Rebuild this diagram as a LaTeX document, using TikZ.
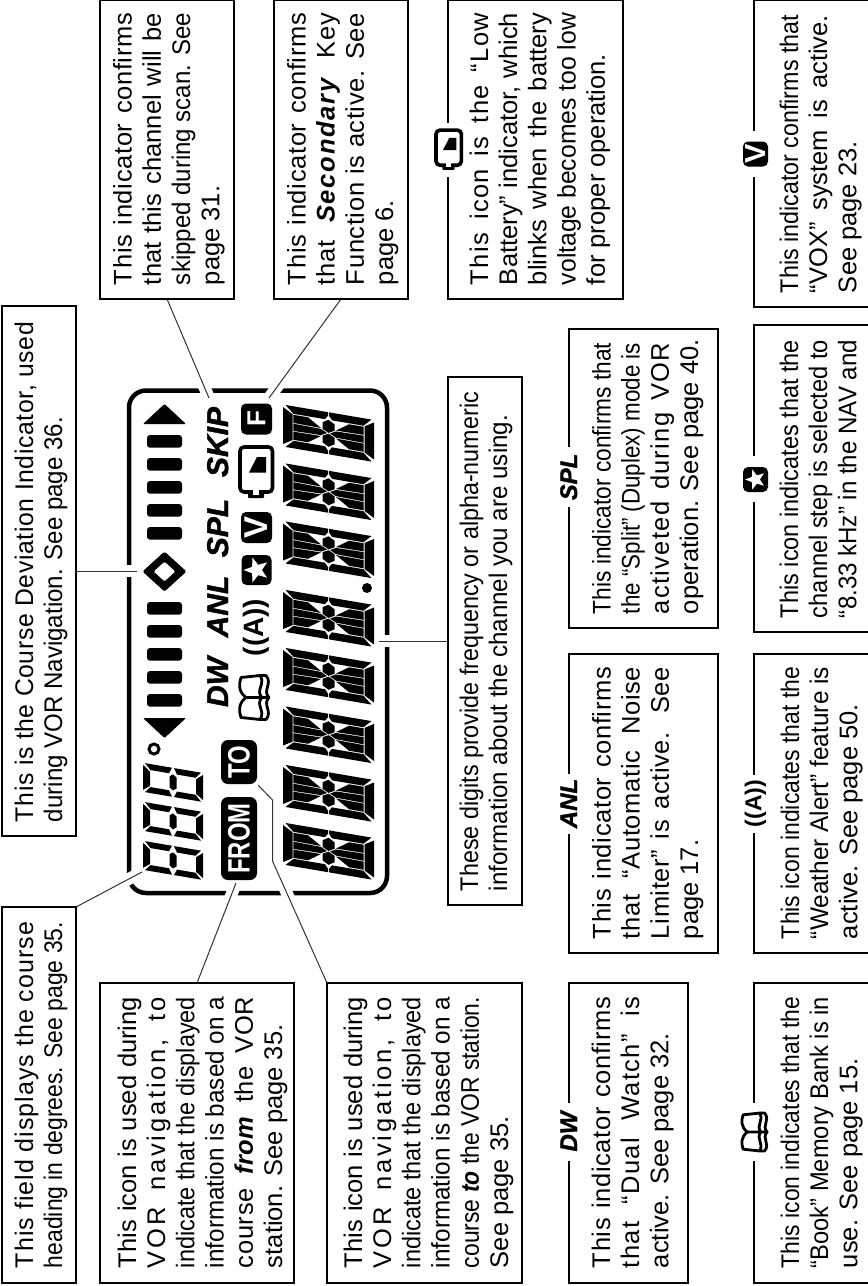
\documentclass[tikz,border=0pt]{standalone}
\usepackage{fontspec}
\usepackage{graphicx}
\setmainfont{Liberation Sans}
\usetikzlibrary{shapes.geometric}
\hbadness=10000 \hfuzz=50pt \vfuzz=50pt
\newsavebox\Lbox
\def\Ii{0pt}\def\Ww{0pt}
\newcommand\Sq{\rule{0pt}{20pt}}
\newcommand\Jw[2]{\sbox\Lbox{#2}\ifdim\wd\Lbox>#1pt
  \hbox{\hskip\Ii\resizebox{#1pt}{\height}{\Sq#2}}%
  \else\hbox{\hskip\Ii\hbox to #1pt{\Sq#2}}\fi}
\newcommand\J[1]{\Jw{\Ww}{#1}}
\newcommand\Lp[1]{\hbox{\hskip\Ii\Sq#1}}
\newcommand\capt[6]{\hbox to #1pt{\parbox[c][#2pt][t]{#1pt}{\def\Ii{#4pt}\def\Ww{#5}%
  \fontsize{25.5}{29.2}\selectfont\vspace*{\dimexpr#3pt-20pt\relax}#6}\hss}}
\newcommand\BI[1]{\textbf{\textit{#1}}}
\newcommand\Tk{\addfontfeature{LetterSpace=2.5}}
\tikzset{
  capbox/.style={draw=black,line width=1.8pt,inner sep=0pt,outer sep=0pt,rotate=90},
  conn/.style={draw=black!80,line width=1pt,preaction={draw=white,line width=12pt}},
  lcdframe/.style={draw=black,line width=4.5pt,rounded corners=17pt,inner sep=0pt,outer sep=0pt},
  biglabel/.style={rotate=90,inner sep=0pt,text height=22pt,text depth=0pt,font=\fontsize{30}{30}\selectfont\bfseries\itshape\addfontfeature{FakeBold=1.5}},
  smalllabel/.style={rotate=90,inner sep=0pt,fill=white,minimum height=10pt,text height=17pt,text depth=0pt,font=\fontsize{24}{24}\selectfont\bfseries\itshape\addfontfeature{FakeBold=1.5}},
  gapnode/.style={rotate=90,fill=white,inner sep=0pt,minimum height=10pt},
  blackicon/.style={rotate=90,fill=black,text=white,rounded corners=5pt,inner sep=0pt,outer sep=0pt,font=\bfseries},
  whitestar/.style={star,star points=5,star point ratio=2.4,fill=white,inner sep=0pt,rotate=90},
  wavesym/.style={rotate=90,inner sep=0pt,font=\bfseries},
  segalpha/.pic={\fill[black,x={(0pt,1pt)},y={(-1pt,.17pt)}]
    (2.5,91)--(39.5,91)--(34,81.5)--(8,81.5)--cycle
    (2.5,0)--(39.5,0)--(34,9.5)--(8,9.5)--cycle
    (0,88.5)--(7.5,80.5)--(7.5,49)--(3.5,46)--(0,46)--cycle
    (0,2.5)--(7.5,10.5)--(7.5,42)--(3.5,45)--(0,45)--cycle
    (42,88.5)--(34.5,80.5)--(34.5,49)--(38.5,46)--(42,46)--cycle
    (42,2.5)--(34.5,10.5)--(34.5,42)--(38.5,45)--(42,45)--cycle
    (7.5,45.5)--(11,51.5)--(17.5,51.5)--(20.6,45.5)--(17.5,39.5)--(11,39.5)--cycle
    (34.5,45.5)--(31,51.5)--(24.5,51.5)--(21.4,45.5)--(24.5,39.5)--(31,39.5)--cycle
    (17.4,80.7)--(24.6,80.7)--(24.1,53)--(21,47)--(17.9,53)--cycle
    (17.4,10.3)--(24.6,10.3)--(24.1,38)--(21,44)--(17.9,38)--cycle
    (8.5,80.7)--(16.6,80.7)--(17,53)--(8.5,66)--cycle
    (33.5,80.7)--(25.4,80.7)--(25,53)--(33.5,66)--cycle
    (8.5,10.3)--(16.6,10.3)--(17,38)--(8.5,25)--cycle
    (33.5,10.3)--(25.4,10.3)--(25,38)--(33.5,25)--cycle;},
  segseven/.pic={\fill[black,x={(0pt,1pt)},y={(-1pt,.17pt)}]
    (2,60)--(27,60)--(21.5,53)--(7,53)--cycle
    (2,0)--(27,0)--(21.5,7)--(7,7)--cycle
    (6.5,30)--(9,33.5)--(20,33.5)--(22.5,30)--(20,26.5)--(9,26.5)--cycle
    (0,58)--(6,52.5)--(6,34)--(0,31)--cycle
    (0,2)--(6,7.5)--(6,26)--(0,29)--cycle
    (29,58)--(23,52.5)--(23,34)--(29,31)--cycle
    (29,2)--(23,7.5)--(23,26)--(29,29)--cycle;},
  battery/.pic={
    \draw[black,line width=3.6pt,rounded corners=4pt,fill=white]
      (-16,-25.5) rectangle (16.5,19.5);
    \fill[black,rounded corners=1pt] (-8,19) -- (-8,25.5) -- (8,25.5) -- (8,19) -- cycle;
    \fill[white] (-3,17) rectangle (3,22);
    \fill[black] (-7,0) -- (1,-15.5) -- (10,-15.5) -- (10,0) -- cycle;},
  bookicon/.pic={
    \begin{scope}[x={(0pt,1pt)},y={(-1pt,0pt)},line width=2.8pt,line join=round]
    \draw[black] (0,10) .. controls (-6,18) and (-14,17) .. (-20,15) -- (-22,-4)
       .. controls (-14,-10) and (-7,1) .. (0,-6) .. controls (7,1) and (14,-10) .. (22,-4)
       -- (20,15) .. controls (14,17) and (6,18) .. (0,10) -- (0,-13);
    \draw[black] (-22,-4) -- (-22,-10) .. controls (-14,-17) and (-7,-6) .. (0,-13)
       .. controls (7,-6) and (14,-17) .. (22,-10) -- (22,-4);
    \end{scope}},
}
\pgfdeclarelayer{under}\pgfsetlayers{under,main}
\begin{document}
\begin{tikzpicture}[x=1pt,y=-1pt]
\useasboundingbox (0,0) rectangle (868,1286);
% --- caption boxes
\node[capbox] (bSkip) at (167,149.5) {\capt{299}{134}{31.7}{14}{272}{%
  \J{\Tk This indicator confirms}\J{that this channel will be}\J{skipped during scan. See}\Lp{page 31.}}};
\node[capbox] (bF) at (341,149.5) {\capt{299}{134}{31.5}{14}{272}{%
  \J{\Tk This indicator confirms}\J{\Tk that {\addfontfeature{LetterSpace=7}\BI{Secondary}} Key}\J{\Tk Function is active. See}\Lp{page 6.}}};
\node[capbox] (bLow) at (535.5,149.5) {\capt{299}{175}{40}{14}{272}{%
  \J{\addfontfeature{LetterSpace=5}This icon is the “Low}\J{Battery” indicator, which}\J{blinks when the battery}\J{voltage becomes too low}\Lp{for proper operation.}}};
\node[capbox] (bV) at (813,153.5) {\capt{307}{118}{44}{14}{278}{%
  \J{This indicator confirms that}\J{“VOX” system is active.}\Lp{See page 23.}}};
\node[capbox] (bCourse) at (39,571) {\capt{530}{74}{31}{14}{500}{%
  \J{\Tk This is the Course Deviation Indicator, used}\Jw{405}{during VOR Navigation. See page 36.}}};
\node[capbox] (bDigits) at (485,641) {\capt{528}{74}{30}{14}{499}{%
  \J{These digits provide frequency or alpha-numeric}\Jw{476}{information about the channel you are using.}}};
\node[capbox] (bSpl) at (643.5,478.5) {\capt{299}{149}{41.5}{14}{271}{%
  \J{This indicator confirms that}\J{the “Split” (Duplex) mode is}\J{\addfontfeature{LetterSpace=5}activeted during VOR}\Lp{operation. See page 40.}}};
\node[capbox] (bStar) at (813,478.5) {\capt{307}{118}{44}{14}{278}{%
  \J{This icon indicates that the}\J{channel step is selected to}\J{“8.33 kHz” in the NAV and}}};
\node[capbox] (bAnl) at (643.5,803.5) {\capt{299}{149}{41.5}{14}{272}{%
  \J{\Tk This indicator confirms}\J{\Tk that “Automatic Noise}\J{\Tk Limiter” is active. See}\Lp{page 17.}}};
\node[capbox] (bWx) at (813,803.5) {\capt{299}{118}{45}{14}{272}{%
  \J{This icon indicates that the}\J{“Weather Alert” feature is}\Lp{active. See page 50.}}};
\node[capbox] (bField) at (39,1095) {\capt{376}{74}{31}{15}{346}{%
  \J{\addfontfeature{LetterSpace=4}This field displays the course}\J{heading in degrees. See page 35.}}};
\node[capbox] (bFrom) at (197,1133) {\capt{300}{194}{36}{15}{271}{%
  \J{This icon is used during}\J{{\addfontfeature{LetterSpace=11}VOR navigation, to}}\J{indicate that the displayed}\J{information is based on a}\J{\Tk course \BI{from} the VOR}\Lp{station. See page 35.}}};
\node[capbox] (bTo) at (424.5,1133) {\capt{300}{195}{35}{15}{271}{%
  \J{This icon is used during}\J{{\addfontfeature{LetterSpace=11}VOR navigation, to}}\J{indicate that the displayed}\J{information is based on a}\J{course \BI{to} the VOR station.}\Lp{See page 35.}}};
\node[capbox] (bDw) at (628.5,1133) {\capt{300}{119}{41}{15}{271}{%
  \J{\Tk This indicator confirms}\J{\addfontfeature{LetterSpace=5}that “Dual Watch” is}\Lp{active. See page 32.}}};
\node[capbox] (bBook) at (813,1133) {\capt{300}{118}{45}{15}{271}{%
  \J{This icon indicates that the}\J{“Book” Memory Bank is in}\Lp{use. See page 15.}}};
% --- caption icons
\node[gapnode,minimum width=54pt] (gLow) at (448,150) {};
\pic[scale=.78] at (448.5,150) {battery};
\node[gapnode,minimum width=46pt] (gV) at (754,154) {};
\node[blackicon,minimum size=25pt,font=\fontsize{29}{29}\selectfont\bfseries] (cV) at (755.5,154) {V};
\node[smalllabel,minimum width=60pt] (cSpl) at (568.5,477) {SPL};
\node[gapnode,minimum width=46pt] (gStar) at (754,478.5) {};
\node[blackicon,minimum size=25pt] (cStar) at (755.5,479.5) {};
\node[whitestar,minimum size=21pt] (cStarS) at (cStar) {};
\node[smalllabel,minimum width=60pt] (cAnl) at (568.5,803.5) {ANL};
\node[gapnode,minimum width=58pt] (gWx) at (754,803.5) {};
\node[wavesym,font=\fontsize{23}{23}\selectfont\bfseries] (cWx) at (755.5,803.5) {((A))};
\node[smalllabel,minimum width=58pt] (cDw) at (568.5,1131.5) {DW};
\node[gapnode,minimum width=58pt] (gBook) at (754,1131.5) {};
\pic[scale=.86] at (756,1132) {bookicon};
% --- display
\pic at (374,462) {segalpha};
\pic at (374,520.5) {segalpha};
\pic at (374,578.5) {segalpha};
\pic at (374,647) {segalpha};
\pic at (374,705) {segalpha};
\pic at (374,763.5) {segalpha};
\pic at (374,822) {segalpha};
\pic at (374,880) {segalpha};
\fill[black] (367,588) circle (5);
\pic at (203,802) {segseven};
\pic at (203,841) {segseven};
\pic at (203,880) {segseven};
\draw[black,line width=3pt] (154,749) circle (5);
\fill[black,rounded corners=1pt] (143,424) -- (186,424) -- (164.5,404) -- cycle;
\fill[black,rounded corners=1pt] (143,718) -- (186,718) -- (164.5,738) -- cycle;
\foreach \yy in {435,458,481,504,527,602,625,648,671,694}
  \fill[black,rounded corners=3pt] (147,\yy) rectangle (182,\yy+12.7);
\fill[black,even odd rule,rounded corners=1.5pt] (142.5,571.5) -- (164.5,551.5) -- (186.5,571.5) -- (164.5,591.5) -- cycle
  (153.5,571.5) -- (164.5,561.5) -- (175.5,571.5) -- (164.5,581.5) -- cycle;
\node[biglabel] (lSkip) at (217,442) {SKIP};
\node[biglabel] (lSpl) at (217,528) {SPL};
\node[biglabel] (lAnl) at (217,606.5) {ANL};
\node[biglabel] (lDw) at (217,682) {DW};
\node[blackicon,minimum size=31pt,font=\fontsize{26}{26}\selectfont\bfseries] (iF) at (256.5,419) {F};
\pic at (256,472.5) {battery};
\node[blackicon,minimum size=31pt,font=\fontsize{33}{33}\selectfont\bfseries] (iV) at (256.5,527.5) {V};
\node[blackicon,minimum size=30pt] (iStar) at (256.5,570) {};
\node[whitestar,minimum size=26pt] (iStarS) at (iStar) {};
\node[wavesym,font=\fontsize{28}{28}\selectfont\bfseries] (iWx) at (256,627.5) {((A))};
\pic at (256,697.5) {bookicon};
\node[blackicon,minimum width=44pt,minimum height=36pt,rounded corners=7pt] (iTo) at (239,762) {\fontsize{31}{31}\selectfont\scalebox{.77}[1]{TO}};
\node[blackicon,minimum width=83pt,minimum height=36pt,rounded corners=7pt] (iFrom) at (239,838.5) {\fontsize{31}{31}\selectfont\scalebox{.77}[1]{FROM}};
% --- free ends of connectors
\coordinate (eSkip) at (209,398);
\coordinate (eF) at (269,398);
\coordinate (eCourse) at (137,571);
\coordinate (eField) at (142,872);
\coordinate (eFrom) at (236,883);
\coordinate (eToA) at (258,785);
\coordinate (eToB) at (272.5,800);
\coordinate (eToC) at (272.5,861);
\coordinate (eDigits) at (379,641);
% --- frame and connectors below everything else
\begin{pgfonlayer}{under}
\node[lcdframe,minimum width=258pt,minimum height=502.5pt] (lcd) at (258,641.75) {};
\path[conn] (bSkip.west) -- (eSkip);
\path[conn] (bF.west) -- (eF);
\path[conn] (bCourse.south) -- (eCourse);
\path[conn] (bField.south east) -- (eField);
\path[conn] (bFrom.east) -- (eFrom);
\path[conn] (bTo.north east) -- (eToC) -- (eToB) -- (eToA);
\path[conn] (bDigits.north) -- (eDigits);
\end{pgfonlayer}
\end{tikzpicture}
\end{document}
